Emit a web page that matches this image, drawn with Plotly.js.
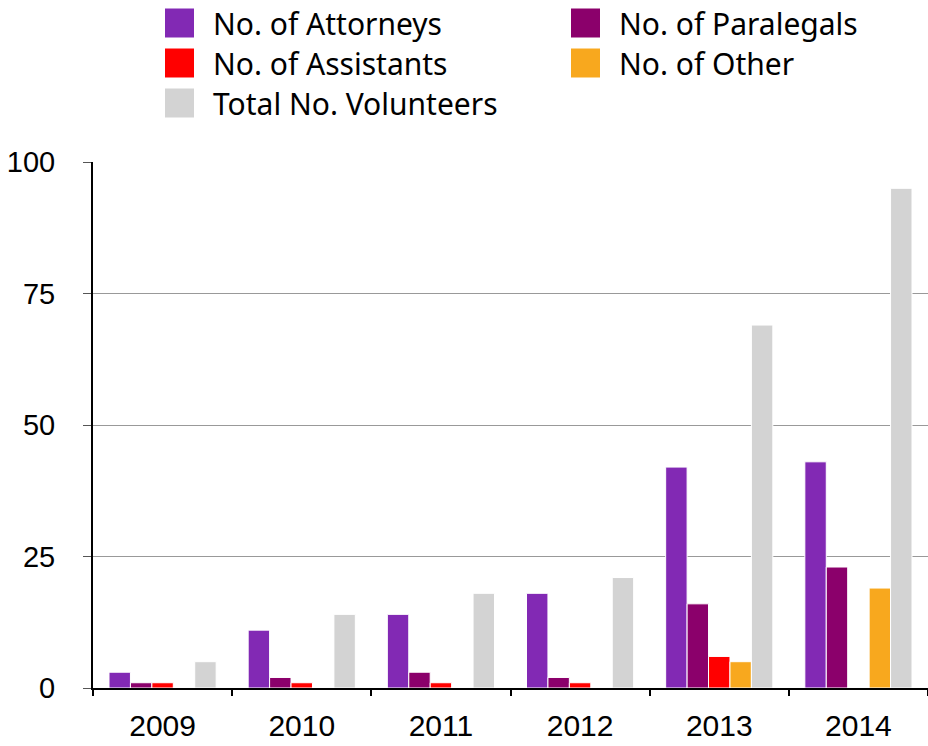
<!DOCTYPE html>
<html>
<head>
<meta charset="utf-8">
<script src="https://cdn.plot.ly/plotly-3.0.1.min.js"></script>
<style>html,body{margin:0;padding:0;background:#fff;}#chart{width:928px;height:746px;}</style>
</head>
<body>
<div id="chart"></div>
<script>
// ---- data ----
const years = ["2009", "2010", "2011", "2012", "2013", "2014"];
const seriesNames = ["No. of Attorneys", "No. of Paralegals", "No. of Assistants", "No. of Other", "Total No. Volunteers"];
const attorneys  = [3, 11, 14, 18, 42, 43];
const paralegals = [1, 2, 3, 2, 16, 23];
const assistants = [1, 1, 1, 1, 6, 0];
const other      = [0, 0, 0, 0, 5, 19];
const volunteers = [5, 14, 18, 21, 69, 95];
const yTicks = [0, 25, 50, 75, 100];

// ---- styling ----
const colors = ["#8229b4", "#8b006b", "#ff0000", "#f8a81e", "#d3d3d3"];
const values = [attorneys, paralegals, assistants, other, volunteers];
const textFont = "'Noto Sans', 'Open Sans', sans-serif";
const numFont = "'Liberation Sans', Arial, sans-serif";

const traces = values.map((v, i) => ({
  type: "bar",
  name: seriesNames[i],
  x: years,
  y: v,
  marker: { color: colors[i], line: { color: "#ffffff", width: 1 } },
  showlegend: false,
  hoverinfo: "x+y+name"
}));

const W = 928, H = 746;
const M = { l: 93, r: 0, t: 162, b: 58 };
const pw = W - M.l - M.r, ph = H - M.t - M.b;
const px = x => (x - M.l) / pw;
const py = y => (H - M.b - y) / ph;

// manual legend (2 columns, row-major order)
const legendCols = [165, 571];
const legendRows = [23, 63, 103];
const sw = 29;
const shapes = [], annotations = [];
seriesNames.forEach((name, i) => {
  const c = i % 2, r = Math.floor(i / 2);
  const x0 = legendCols[c], yc = legendRows[r];
  shapes.push({
    type: "rect", xref: "paper", yref: "paper",
    x0: px(x0), x1: px(x0 + sw), y0: py(yc + sw / 2), y1: py(yc - sw / 2),
    fillcolor: colors[i], line: { width: 0 }
  });
  annotations.push({
    xref: "paper", yref: "paper", x: px(x0 + sw + 17), y: py(yc),
    xanchor: "left", yanchor: "middle", showarrow: false,
    text: name, font: { family: textFont, size: 30, color: "#000" }
  });
});

const layout = {
  width: W, height: H,
  margin: M,
  paper_bgcolor: "#fff", plot_bgcolor: "#fff",
  barmode: "group",
  bargap: 0.23,
  bargroupgap: 0,
  showlegend: false,
  xaxis: {
    type: "category",
    tickson: "boundaries",
    ticks: "outside", ticklen: 6, tickwidth: 2, tickcolor: "#000",
    showline: true, linecolor: "#000", linewidth: 2,
    showgrid: false,
    tickfont: { family: numFont, size: 30, color: "#000" },
    ticklabelstandoff: 10
  },
  yaxis: {
    range: [0, 100],
    tickvals: yTicks,
    ticktext: yTicks.map(String),
    ticks: "outside", ticklen: 8, tickwidth: 1, tickcolor: "#555",
    showline: true, linecolor: "#000", linewidth: 2,
    showgrid: true, gridcolor: "#999", gridwidth: 1,
    zeroline: false,
    tickfont: { family: numFont, size: 29, color: "#000" },
    ticklabelstandoff: 22
  },
  shapes: shapes,
  annotations: annotations
};

Plotly.newPlot("chart", traces, layout, { displayModeBar: false, staticPlot: true });
</script>
</body>
</html>
